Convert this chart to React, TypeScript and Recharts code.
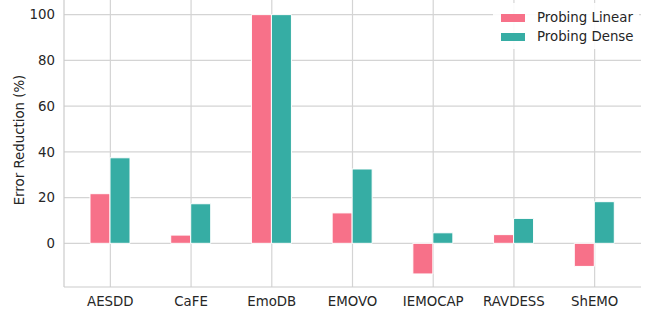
import React from 'react';
import { BarChart, Bar, XAxis, YAxis, CartesianGrid } from 'recharts';

const datasets = ['AESDD', 'CaFE', 'EmoDB', 'EMOVO', 'IEMOCAP', 'RAVDESS', 'ShEMO'];
const probingLinear = [21.7, 3.6, 100, 13.3, -13.4, 3.8, -10.1];
const probingDense = [37.4, 17.3, 100, 32.5, 4.6, 10.9, 18.2];
const yTicks = [0, 20, 40, 60, 80, 100];

const linearColor = '#f77189';
const denseColor = '#36ada4';
const textColor = '#262626';
const gridColor = '#d4d4d4';
const font = 'DejaVu Sans, sans-serif';

const data = datasets.map((name, i) => ({
    name,
    'Probing Linear': probingLinear[i],
    'Probing Dense': probingDense[i],
}));

const legendItems = [
    { label: 'Probing Linear', color: linearColor },
    { label: 'Probing Dense', color: denseColor },
];

// legend box drawn over the plot, hides the grid behind it like matplotlib's frame
const LegendBox = () => (
    <div
        style={{
            position: 'absolute',
            left: 493,
            top: 3,
            width: 146,
            height: 46,
            background: 'rgba(255,255,255,0.9)',
            fontFamily: font,
            fontSize: 13.33,
            color: textColor,
        }}
    >
        {legendItems.map((item, i) => (
            <div key={item.label} style={{ position: 'absolute', left: 8, top: 8 + i * 19, height: 14, display: 'flex', alignItems: 'center', whiteSpace: 'nowrap' }}>
                <span style={{ display: 'inline-block', width: 24, height: 8, background: item.color, marginRight: 12 }} />
                <span style={{ lineHeight: '14px' }}>{item.label}</span>
            </div>
        ))}
    </div>
);

const App: React.FC = () => {
    return (
        <div style={{ position: 'absolute', left: 0, top: 0, width: 651, height: 313, background: '#fff' }}>
            <BarChart
                width={651}
                height={313}
                data={data}
                margin={{ top: 0, right: 10, left: 0, bottom: 0 }}
                barGap={0}
                barSize={20}
            >
                {/* syncWithTicks: grid only at ticks, no frame on top/right */}
                <CartesianGrid stroke={gridColor} strokeWidth={1.2} syncWithTicks />
                <XAxis
                    dataKey="name"
                    height={26}
                    padding={{ left: 6, right: 6 }}
                    tickLine={false}
                    tickSize={0}
                    tickMargin={10}
                    axisLine={{ stroke: '#cccccc', strokeWidth: 1.2 }}
                    tick={{ fill: textColor, fontSize: 13.33, fontFamily: font }}
                />
                <YAxis
                    width={64}
                    domain={[-19.1, 106.4]}
                    ticks={yTicks}
                    allowDataOverflow
                    tickLine={false}
                    tickSize={0}
                    tickMargin={9}
                    axisLine={{ stroke: '#cccccc', strokeWidth: 1.2 }}
                    tick={{ fill: textColor, fontSize: 13.33, fontFamily: font }}
                    label={{
                        content: () => (
                            <text
                                x={19}
                                y={140}
                                transform="rotate(-90 19 140)"
                                textAnchor="middle"
                                dominantBaseline="central"
                                fill={textColor}
                                fontSize={13.33}
                                fontFamily={font}
                            >
                                Error Reduction (%)
                            </text>
                        ),
                    }}
                />
                <Bar dataKey="Probing Linear" fill={linearColor} stroke="#fff" strokeWidth={1} isAnimationActive={false} />
                <Bar dataKey="Probing Dense" fill={denseColor} stroke="#fff" strokeWidth={1} isAnimationActive={false} />
            </BarChart>
            <LegendBox />
        </div>
    );
};

export default App;
